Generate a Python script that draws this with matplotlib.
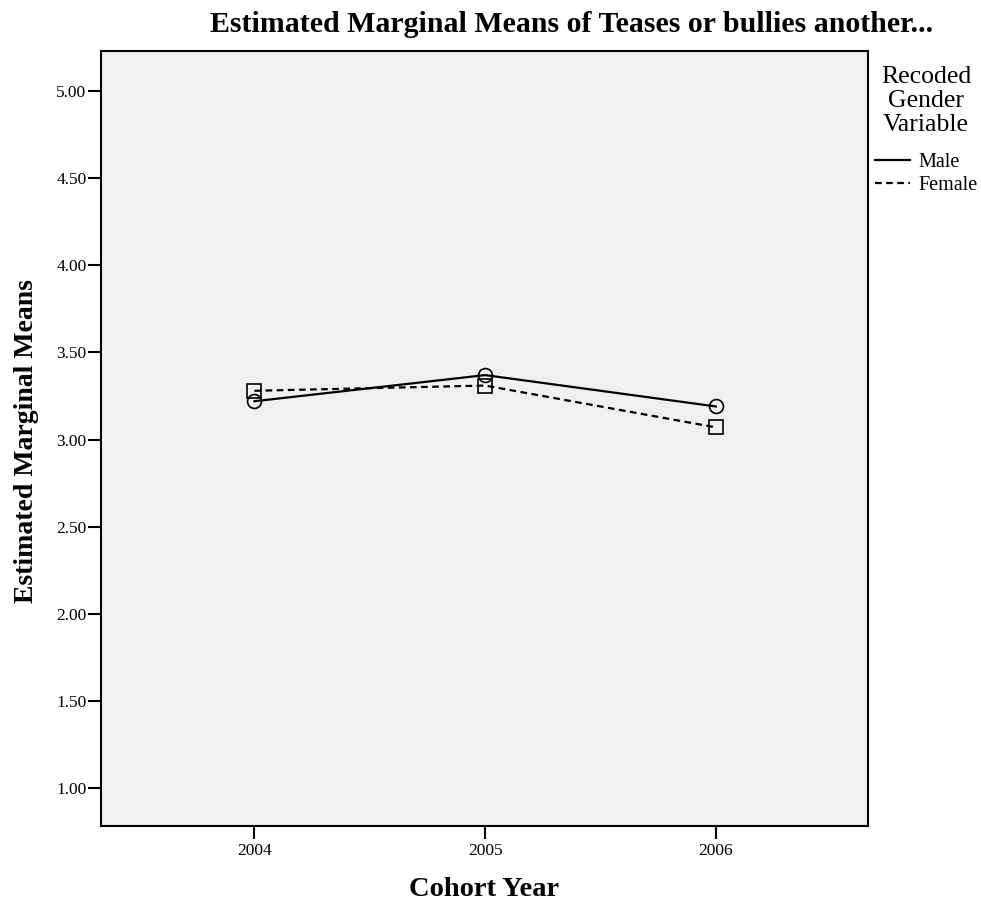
import matplotlib.pyplot as plt
from matplotlib.lines import Line2D

plt.rcParams['font.family'] = ['Liberation Serif', 'DejaVu Serif']

# Estimated marginal means per cohort year
years = [2004, 2005, 2006]
year_labels = ["2004", "2005", "2006"]
male = [3.22, 3.37, 3.19]
female = [3.28, 3.31, 3.07]
yticks = [1.0, 1.5, 2.0, 2.5, 3.0, 3.5, 4.0, 4.5, 5.0]

fig = plt.figure(figsize=(9.81, 9.05), dpi=100)
ax = fig.add_axes([0.103, 0.0873, 0.782, 0.8563])
ax.set_facecolor("#f0f0f0")

dash = (0, (3, 2))
ax.plot(years, male, color="black", linestyle="-", linewidth=1.6,
        marker="o", markersize=10, markerfacecolor="none", markeredgewidth=1.2)
ax.plot(years, female, color="black", linestyle=dash, linewidth=1.6,
        marker="s", markersize=10, markerfacecolor="none", markeredgewidth=1.2)

ax.set_xlim(2003.335, 2006.66)
ax.set_ylim(0.782, 5.23)
ax.set_xticks(years)
ax.set_xticklabels(year_labels)
ax.set_yticks(yticks)
ax.set_yticklabels([f"{v:.2f}" for v in yticks])
ax.tick_params(axis="both", labelsize=12.5, length=9.5, width=1.5, colors="black")
ax.tick_params(axis="x", pad=3)
ax.tick_params(axis="y", pad=1)
for s in ax.spines.values():
    s.set_linewidth(1.5)

# titles and axis labels
fig.text(0.583, 0.973, "Estimated Marginal Means of Teases or bullies another...",
         ha="center", va="center", fontsize=21.5, fontweight="bold")
fig.text(0.4934, 0.0166, "Cohort Year", ha="center", va="center",
         fontsize=20.5, fontweight="bold")
fig.text(0.027, 0.5127, "Estimated Marginal Means", ha="center", va="center",
         rotation=90, fontsize=20, fontweight="bold")

# legend
fig.text(0.944, 0.927, "Recoded\nGender\nVariable", ha="center", va="top",
         fontsize=18.5, linespacing=1.12, multialignment="center")
handles = [Line2D([], [], color="black", linestyle="-", linewidth=1.6),
           Line2D([], [], color="black", linestyle=dash, linewidth=1.6)]
fig.legend(handles, ["Male", "Female"], loc="upper left",
           bbox_to_anchor=(875 / 981, 0.831), frameon=False,
           fontsize=14.5, handlelength=1.75, handletextpad=0.4,
           labelspacing=0.2, borderpad=0, borderaxespad=0)

fig.savefig("out.png", dpi=100)
